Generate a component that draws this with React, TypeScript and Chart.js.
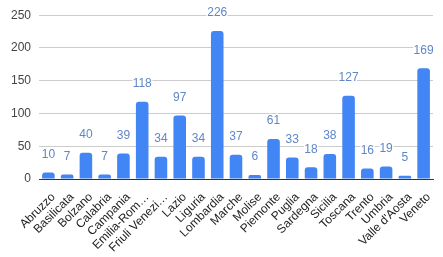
import React, { useEffect, useRef } from "react";
import { Chart, registerables } from "chart.js";

Chart.register(...registerables);

const categories = [
  "Abruzzo", "Basilicata", "Bolzano", "Calabria", "Campania", "Emilia-Rom…",
  "Friuli Venezi…", "Lazio", "Liguria", "Lombardia", "Marche", "Molise",
  "Piemonte", "Puglia", "Sardegna", "Sicilia", "Toscana", "Trento", "Umbria",
  "Valle d'Aosta", "Veneto",
];
const values = [10, 7, 40, 7, 39, 118, 34, 97, 34, 226, 37, 6, 61, 33, 18, 38, 127, 16, 19, 5, 169];
const yTicks = [0, 50, 100, 150, 200, 250];

const FONT = "'Liberation Sans', Arial, sans-serif";

const labelPlugin = {
  id: "barLabels",
  afterDatasetsDraw(chart: any) {
    const ctx = chart.ctx;
    const meta = chart.getDatasetMeta(0);
    ctx.save();
    ctx.font = `12px ${FONT}`;
    ctx.textAlign = "center";
    ctx.textBaseline = "middle";
    ctx.lineJoin = "round";
    meta.data.forEach((bar: any, i: number) => {
      const txt = String(values[i]);
      const y = bar.y - 18;
      ctx.strokeStyle = "#ffffff";
      ctx.lineWidth = 3;
      ctx.strokeText(txt, bar.x, y);
      ctx.fillStyle = "#5f86c6";
      ctx.fillText(txt, bar.x, y);
    });
    ctx.restore();
  },
};

export default function App() {
  const ref = useRef<HTMLCanvasElement>(null);
  useEffect(() => {
    if (!ref.current) return;
    const chart = new Chart(ref.current, {
      type: "bar",
      data: {
        labels: categories,
        datasets: [
          {
            data: values,
            backgroundColor: "#4285f4",
            borderRadius: { topLeft: 3, topRight: 3, bottomLeft: 0, bottomRight: 0 },
            borderSkipped: false,
            categoryPercentage: 1,
            barPercentage: 0.67,
          },
        ],
      },
      options: {
        animation: false,
        responsive: false,
        maintainAspectRatio: false,
        layout: { padding: { top: 8, right: 10, bottom: 0, left: 0 } },
        plugins: { legend: { display: false }, tooltip: { enabled: false } },
        scales: {
          x: {
            grid: { display: false },
            border: { display: true, color: "#333333", width: 1 },
            ticks: {
              color: "#222222",
              font: { family: FONT, size: 12 },
              maxRotation: 45,
              minRotation: 45,
              autoSkip: false,
              padding: 3,
              labelOffset: 5,
            },
            afterFit(scale: any) {
              scale.height = 78;
            },
          },
          y: {
            min: 0,
            max: 250,
            afterBuildTicks(scale: any) {
              scale.ticks = yTicks.map((v) => ({ value: v }));
            },
            grid: {
              color: (c: any) => (c.tick && c.tick.value === 0 ? "#333333" : "#cccccc"),
              drawTicks: false,
            },
            border: { display: false },
            ticks: {
              color: "#444444",
              font: { family: FONT, size: 12 },
              padding: 8,
            },
            afterFit(scale: any) {
              scale.width = 39;
            },
          },
        },
      },
      plugins: [labelPlugin],
    });
    return () => chart.destroy();
  }, []);
  return (
    <div style={{ position: "fixed", left: 0, top: 0, width: 443, height: 257, background: "#fff" }}>
      <canvas ref={ref} width={443} height={257} style={{ width: 443, height: 257 }} />
    </div>
  );
}
